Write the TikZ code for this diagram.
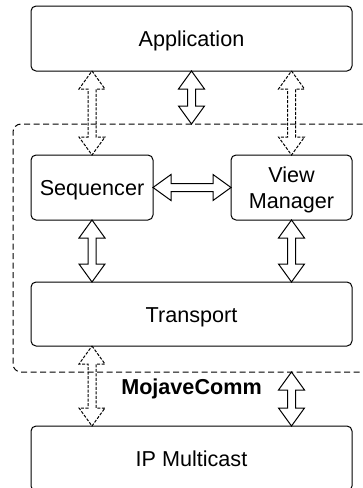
\documentclass[tikz,border=0pt]{standalone}
\usepackage{fontspec}
\setmainfont{Liberation Sans}
\usetikzlibrary{calc}
\tikzset{
  txt/.style={font=\fontsize{21.6}{25.5}\selectfont},
  box/.style={draw, rounded corners=5pt, line width=1pt, minimum height=65pt,
    inner sep=0pt, outer sep=0pt, txt, text height=16.8pt, text depth=0pt},
  cont/.style={draw, dash pattern=on 6pt off 3.5pt, rounded corners=8pt,
    line width=1pt, inner sep=0pt, outer sep=0pt},
  dbl/.style={line width=1pt, line join=miter, to path={
    -- ($(\tikztostart)!18pt!(\tikztotarget)!13pt!90:(\tikztotarget)$)
    -- ($(\tikztostart)!18pt!(\tikztotarget)!4pt!90:(\tikztotarget)$)
    -- ($(\tikztotarget)!18pt!(\tikztostart)!4pt!-90:(\tikztostart)$)
    -- ($(\tikztotarget)!18pt!(\tikztostart)!13pt!-90:(\tikztostart)$)
    -- (\tikztotarget)
    -- ($(\tikztotarget)!18pt!(\tikztostart)!13pt!90:(\tikztostart)$)
    -- ($(\tikztotarget)!18pt!(\tikztostart)!4pt!90:(\tikztostart)$)
    -- ($(\tikztostart)!18pt!(\tikztotarget)!4pt!-90:(\tikztotarget)$)
    -- ($(\tikztostart)!18pt!(\tikztotarget)!13pt!-90:(\tikztotarget)$)
    -- cycle}},
  dbldash/.style={dbl, dash pattern=on 3pt off 1.5pt}
}
\begin{document}
\begin{tikzpicture}[x=1pt,y=-1pt]
\useasboundingbox (0,0) rectangle (363,488);
\node[cont, minimum width=367pt, minimum height=248pt] (cont) at (196.5,248) {};
\node[box, minimum width=321pt] (app) at (191.5,38.5) {Application};
\node[box, minimum width=122pt] (seq) at (92,187.5) {Sequencer};
\node[box, minimum width=121pt, align=center, text height=41.8pt, text depth=0pt] (vm) at (291.5,187.5) {View\\Manager};
\node[box, minimum width=321pt, minimum height=64pt] (trans) at (191.5,314) {Transport};
\node[box, minimum width=321pt] (ip) at (191.5,458.5) {IP Multicast};
\node[txt, font=\fontsize{21.6}{25.5}\selectfont\bfseries, text height=16.8pt, text depth=0pt, inner sep=0pt] (mc) at (191.5,386.5) {MojaveComm};
\coordinate (a1) at (app.south -| seq.north);
\coordinate (a2) at (app.south |- cont.north);
\coordinate (a3) at (app.south -| vm.north);
\coordinate (t1) at (seq.south |- trans.north);
\coordinate (t2) at (vm.south |- trans.north);
\coordinate (t3) at (trans.south -| seq.south);
\coordinate (i1) at (ip.north -| seq.south);
\coordinate (c1) at (cont.south -| vm.south);
\coordinate (i2) at (ip.north -| vm.south);
\draw[dbldash] (a1) to (seq.north);
\draw[dbl] (app.south) to (a2);
\draw[dbldash] (a3) to (vm.north);
\draw[dbl] (seq.east) to (vm.west);
\draw[dbl] (seq.south) to (t1);
\draw[dbl] (vm.south) to (t2);
\draw[dbldash] (t3) to (i1);
\draw[dbl] (c1) to (i2);
\end{tikzpicture}
\end{document}
